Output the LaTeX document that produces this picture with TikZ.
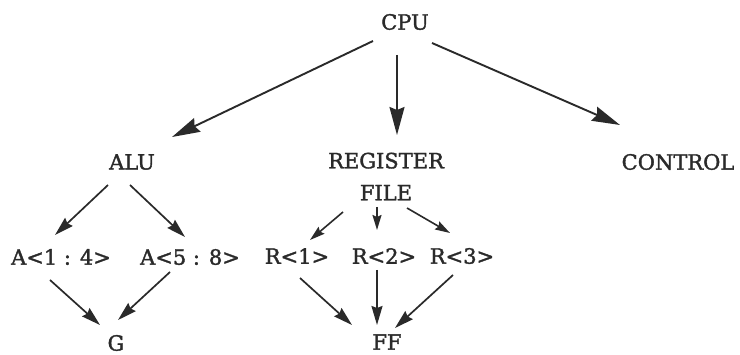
\documentclass[tikz,border=0pt]{standalone}
\usepackage{fontspec}
\setmainfont{DejaVu Serif}[FakeBold=1.6]
\usetikzlibrary{arrows.meta,calc}

\definecolor{ink}{HTML}{2A2A2A}

\tikzset{
  label/.style={text=ink, inner sep=0pt, font=\fontsize{21}{32}\selectfont, align=center},
  bigarrow/.style={draw=ink, line width=1.9pt, -{Stealth[length=28pt,width=15pt,inset=3pt]}},
  midarrow/.style={draw=ink, line width=1.7pt, -{Stealth[length=19pt,width=11pt,inset=2pt]}},
  smallarrow/.style={draw=ink, line width=1.6pt, -{Stealth[length=15pt,width=9pt,inset=2pt]}},
}

\begin{document}
\begin{tikzpicture}[x=1pt,y=-1pt]
  \useasboundingbox[fill=white] (0,0) rectangle (740,355);

  % hierarchy levels
  \node[label] (cpu)     at (405,22)    {CPU};
  \node[label] (alu)     at (132,162)   {ALU};
  \node[label] (regfile) at (386,176.5) {REGISTER\\FILE};
  \node[label] (control) at (678,162)   {CONTROL};

  \node[label] (a14) at (61,257)  {A<1 : 4>};
  \node[label] (a58) at (190,257) {A<5 : 8>};
  \node[label] (r1)  at (297,256) {R<1>};
  \node[label] (r2)  at (384,256) {R<2>};
  \node[label] (r3)  at (462,256) {R<3>};

  \node[label] (g)   at (116,343) {G};
  \node[label] (ff)  at (387,342) {FF};

  % CPU decomposition
  \draw[bigarrow] ($(cpu)+(-32,19)$) -- ($(alu)+(40,-25)$);
  \draw[bigarrow] ($(cpu)+(-8,33)$)  -- ($(regfile)+(11,-41.5)$);
  \draw[bigarrow] ($(cpu)+(27,21)$)  -- ($(control)+(-58,-37)$);

  % ALU and register file
  \draw[midarrow]   ($(alu)+(-24,23)$)       -- ($(a14)+(-6,-22)$);
  \draw[midarrow]   ($(alu)+(-2,23)$)        -- ($(a58)+(-5,-20)$);
  \draw[smallarrow] ($(regfile)+(-43,35.5)$) -- ($(r1)+(13,-16)$);
  \draw[smallarrow] ($(regfile)+(-9,30.5)$)  -- ($(r2)+(-7,-26)$);
  \draw[smallarrow] ($(regfile)+(21,31.5)$)  -- ($(r3)+(-12,-23)$);

  % merging into G and FF
  \draw[midarrow] ($(a14)+(-11,23)$) -- ($(g)+(-16,-18)$);
  \draw[midarrow] ($(a58)+(-20,15)$) -- ($(g)+(2,-23)$);
  \draw[midarrow] ($(r1)+(3,22)$)    -- ($(ff)+(-35,-17)$);
  \draw[midarrow] ($(r2)+(-7,14)$)   -- ($(ff)+(-10,-17)$);
  \draw[midarrow] ($(r3)+(-9,19)$)   -- ($(ff)+(8,-14)$);
\end{tikzpicture}
\end{document}
